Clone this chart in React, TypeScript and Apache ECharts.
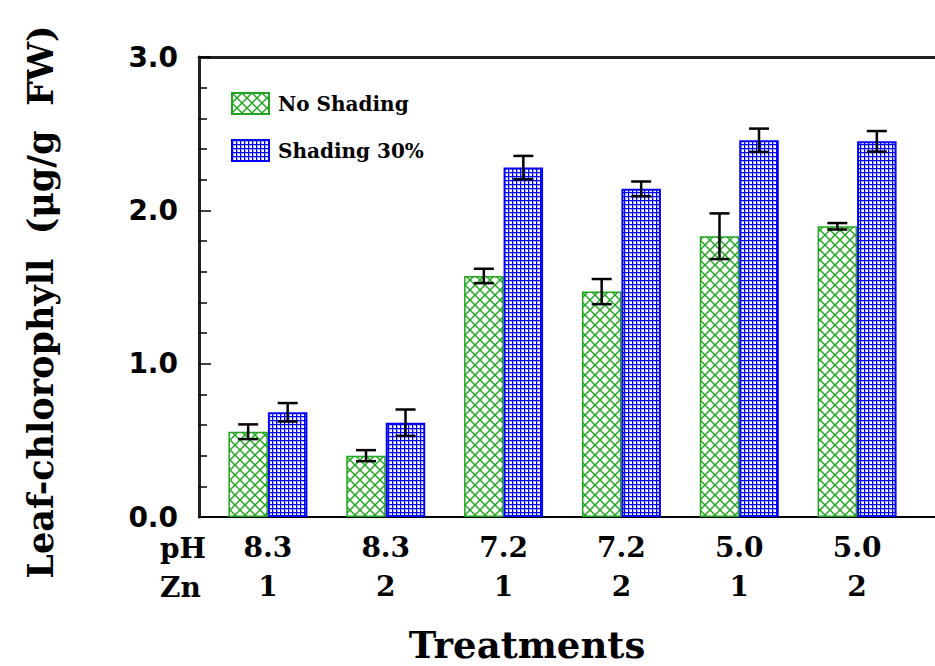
import React, { useEffect, useRef } from "react";
import * as echarts from "echarts";

const phLabels = ["8.3", "8.3", "7.2", "7.2", "5.0", "5.0"];
const znLabels = ["1", "2", "1", "2", "1", "2"];
const seriesNames = ["No Shading", "Shading 30%"];
const noShading = [0.556, 0.4, 1.572, 1.47, 1.831, 1.896];
const noShadingErr = [0.048, 0.036, 0.047, 0.082, 0.149, 0.021];
const shading30 = [0.683, 0.615, 2.279, 2.14, 2.457, 2.45];
const shading30Err = [0.06, 0.086, 0.076, 0.048, 0.076, 0.067];
const yTicks = [0, 1, 2, 3];

function makeGreenPattern(): HTMLCanvasElement {
  const c = document.createElement("canvas");
  c.width = 10;
  c.height = 10;
  const ctx = c.getContext("2d")!;
  ctx.fillStyle = "#ffffff";
  ctx.fillRect(0, 0, 10, 10);
  ctx.strokeStyle = "#1fa51f";
  ctx.lineWidth = 1.4;
  for (const k of [-10, 0, 10]) {
    ctx.beginPath();
    ctx.moveTo(k, 0);
    ctx.lineTo(k + 10, 10);
    ctx.stroke();
    ctx.beginPath();
    ctx.moveTo(k, 10);
    ctx.lineTo(k + 10, 0);
    ctx.stroke();
  }
  return c;
}

function makeBluePattern(): HTMLCanvasElement {
  const c = document.createElement("canvas");
  c.width = 4;
  c.height = 4;
  const ctx = c.getContext("2d")!;
  ctx.fillStyle = "#ffffff";
  ctx.fillRect(0, 0, 4, 4);
  ctx.fillStyle = "#b0b0ff";
  ctx.fillRect(1, 0, 1, 4);
  ctx.fillRect(0, 1, 4, 1);
  ctx.fillStyle = "#0000ff";
  ctx.fillRect(0, 0, 1, 4);
  ctx.fillRect(0, 0, 4, 1);
  return c;
}

const BAR_W = 39.5;

export default function App() {
  const ref = useRef<HTMLDivElement>(null);
  useEffect(() => {
    if (!ref.current) return;
    const chart = echarts.init(ref.current, null, { renderer: "svg" });
    const green = { image: makeGreenPattern(), repeat: "repeat", imageWidth: 10, imageHeight: 10 };
    const blue = { image: makeBluePattern(), repeat: "repeat", imageWidth: 4, imageHeight: 4 };

    const errRender = (offset: number) => (params: any, api: any) => {
      const cx = api.coord([api.value(0), 0])[0] + offset;
      const yLo = api.coord([api.value(0), api.value(1)])[1];
      const yHi = api.coord([api.value(0), api.value(2)])[1];
      const st = { stroke: "#000", lineWidth: 2.5 };
      return {
        type: "group",
        children: [
          { type: "line", shape: { x1: cx, y1: yLo, x2: cx, y2: yHi }, style: st },
          { type: "line", shape: { x1: cx - 10, y1: yLo, x2: cx + 10, y2: yLo }, style: st },
          { type: "line", shape: { x1: cx - 10, y1: yHi, x2: cx + 10, y2: yHi }, style: st },
        ],
      };
    };

    const option: any = {
      animation: false,
      backgroundColor: "#ffffff",
      grid: [
        { left: 199, right: 0, top: 57, bottom: 149 },
        { left: 209, right: 19, top: 57, bottom: 149 },
      ],
      legend: {
        data: seriesNames,
        orient: "vertical",
        left: 231,
        top: 92,
        padding: 0,
        icon: "rect",
        itemWidth: 37,
        itemHeight: 21,
        itemGap: 24,
        textStyle: {
          fontFamily: "DejaVu Serif",
          fontWeight: "bold",
          fontSize: 20,
          color: "#000",
          padding: [0, 0, 0, 4],
        },
      },
      xAxis: [
        {
          gridIndex: 0, type: "value", min: 0, max: 1, position: "bottom",
          axisLine: { show: true, lineStyle: { color: "#000", width: 2 } },
          axisTick: { show: false }, axisLabel: { show: false }, splitLine: { show: false },
        },
        {
          gridIndex: 0, type: "value", min: 0, max: 1, position: "top",
          axisLine: { show: true, lineStyle: { color: "#222", width: 3 } },
          axisTick: { show: false }, axisLabel: { show: false }, splitLine: { show: false },
        },
        {
          gridIndex: 1, type: "category", data: phLabels.map((p, i) => p + "\n" + znLabels[i]),
          axisLine: { show: false }, axisTick: { show: false }, splitLine: { show: false },
          axisLabel: {
            margin: 11, color: "#000", fontFamily: "DejaVu Serif", fontWeight: "bold",
            fontSize: 28, lineHeight: 39, interval: 0,
          },
        },
      ],
      yAxis: [
        {
          gridIndex: 0, type: "value", min: yTicks[0], max: yTicks[yTicks.length - 1], interval: 1,
          axisLine: { show: true, lineStyle: { color: "#222", width: 3 } },
          axisTick: { show: true, inside: true, length: 12, lineStyle: { color: "#000", width: 1.5 } },
          minorTick: { show: true, splitNumber: 5, length: 8, lineStyle: { color: "#000", width: 1.5 } },
          splitLine: { show: false },
          axisLabel: {
            margin: 21, color: "#000", fontFamily: "DejaVu Sans", fontWeight: "bold", fontSize: 28,
            formatter: (v: number) => v.toFixed(1),
          },
        },
        {
          gridIndex: 1, type: "value", min: 0, max: 3, show: false,
        },
      ],
      series: [
        {
          name: seriesNames[0], type: "bar", xAxisIndex: 2, yAxisIndex: 1,
          barWidth: BAR_W, barGap: "0%", data: noShading,
          itemStyle: { color: green, borderColor: "#1fa51f", borderWidth: 1.5 },
        },
        {
          name: seriesNames[1], type: "bar", xAxisIndex: 2, yAxisIndex: 1,
          barWidth: BAR_W, barGap: "0%", data: shading30,
          itemStyle: { color: blue, borderColor: "#0000ff", borderWidth: 2 },
        },
        {
          name: "err0", type: "custom", xAxisIndex: 2, yAxisIndex: 1, z: 5,
          renderItem: errRender(-BAR_W / 2),
          data: noShading.map((v, i) => [i, v - noShadingErr[i], v + noShadingErr[i]]),
        },
        {
          name: "err1", type: "custom", xAxisIndex: 2, yAxisIndex: 1, z: 5,
          renderItem: errRender(BAR_W / 2),
          data: shading30.map((v, i) => [i, v - shading30Err[i], v + shading30Err[i]]),
        },
      ],
      graphic: [
        {
          type: "text", x: 40, y: 302, rotation: Math.PI / 2,
          style: {
            text: "Leaf-chlorophyll  (μg/g  FW)", fill: "#000", font: "bold 35px 'DejaVu Serif'",
            textAlign: "center", textVerticalAlign: "middle",
          },
        },
        {
          type: "text", x: 527, y: 645,
          style: {
            text: "Treatments", fill: "#000", font: "bold 37px 'DejaVu Serif'",
            textAlign: "center", textVerticalAlign: "middle",
          },
        },
        {
          type: "text", x: 160, y: 548,
          style: { text: "pH", fill: "#000", font: "bold 28px 'DejaVu Serif'", textAlign: "left", textVerticalAlign: "middle" },
        },
        {
          type: "text", x: 160, y: 587,
          style: { text: "Zn", fill: "#000", font: "bold 28px 'DejaVu Serif'", textAlign: "left", textVerticalAlign: "middle" },
        },
      ],
    };
    chart.setOption(option);
    return () => chart.dispose();
  }, []);
  return (
    <div
      ref={ref}
      style={{ position: "fixed", left: 0, top: 0, width: 935, height: 666, background: "#fff" }}
    />
  );
}
